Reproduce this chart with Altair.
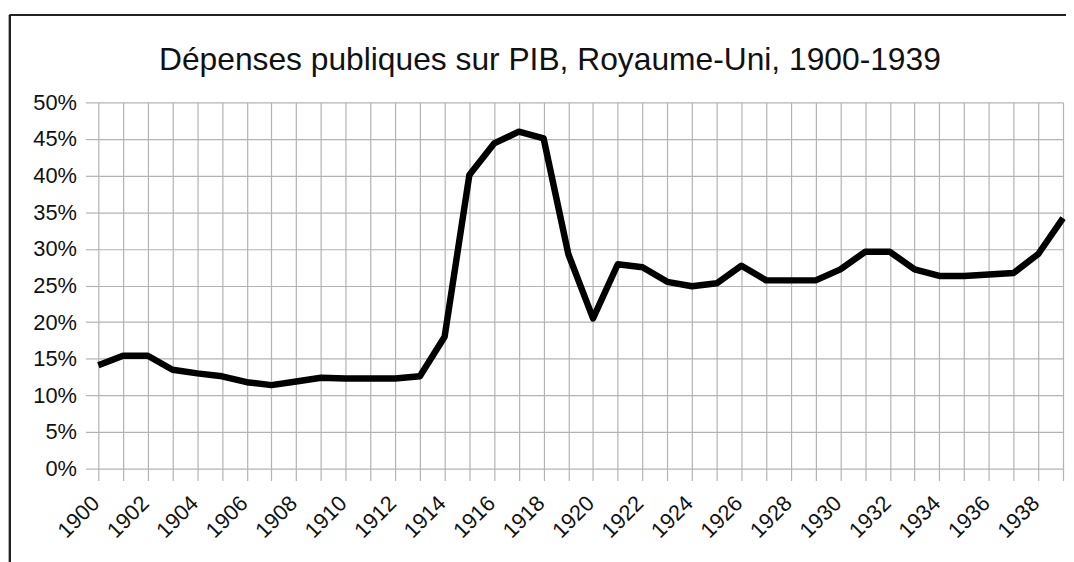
import altair as alt
import pandas as pd

years = list(range(1900, 1940))
spending_pct = [14.1, 15.4, 15.4, 13.5, 13.0, 12.6, 11.8, 11.4, 11.9, 12.4,
                12.3, 12.3, 12.3, 12.6, 18.0, 40.1, 44.4, 46.0, 45.1, 29.3,
                20.5, 27.9, 27.5, 25.5, 24.9, 25.3, 27.7, 25.7, 25.7, 25.7,
                27.2, 29.6, 29.6, 27.2, 26.3, 26.3, 26.5, 26.7, 29.3, 34.2]
y_ticks = [0, 5, 10, 15, 20, 25, 30, 35, 40, 45, 50]

df = pd.DataFrame({"year": years, "value": spending_pct})

FONT = "Liberation Sans"
GRID = "#b3b3b3"

x_enc = alt.X(
    "year:Q",
    scale=alt.Scale(domain=[1900, 1939], nice=False, zero=False),
    axis=alt.Axis(
        values=years, title=None, format="d",
        labelExpr="datum.value % 2 == 0 ? datum.label : ''",
        labelAngle=-45, labelAlign="right", labelBaseline="middle",
        labelPadding=19, labelOffset=-3, labelFontSize=22, labelFont=FONT,
        labelColor="#111",
        grid=True, gridColor=GRID, gridWidth=1.2,
        ticks=True, tickColor=GRID, tickSize=12, tickWidth=1.2,
        domain=False, labelOverlap=False, labelFlush=False,
    ),
)
y_enc = alt.Y(
    "value:Q",
    scale=alt.Scale(domain=[0, 50], nice=False),
    axis=alt.Axis(
        values=y_ticks, title=None,
        labelExpr="datum.value + '%'",
        labelFontSize=22, labelFont=FONT, labelColor="#111", labelPadding=9,
        grid=True, gridColor=GRID, gridWidth=1.2,
        ticks=True, tickColor=GRID, tickSize=13, tickWidth=1.2,
        domain=False,
    ),
)

line = alt.Chart(df).mark_line(
    color="black", strokeWidth=6.5, strokeJoin="round", strokeCap="butt"
).encode(x=x_enc, y=y_enc)

frame_left = alt.Chart(df).mark_rule(color="#222", strokeWidth=2).encode(
    x=alt.value(-89), y=alt.value(-88), y2=alt.value(600)
)
frame_top = alt.Chart(df).mark_rule(color="#222", strokeWidth=2).encode(
    x=alt.value(-89), x2=alt.value(1100), y=alt.value(-88)
)

chart = alt.layer(line, frame_left, frame_top).properties(
    width=972, height=369,
    title=alt.TitleParams(
        "Dépenses publiques sur PIB, Royaume-Uni, 1900-1939",
        font=FONT, fontSize=32, fontWeight="normal", color="#111",
        anchor="middle", frame="group", baseline="alphabetic",
        offset=-88, dx=-31,
    ),
    autosize=alt.AutoSizeParams(type="none"),
    padding={"left": 91, "top": 93, "right": 3, "bottom": 92},
).configure_view(stroke=None)

chart.save("out.html", embed_options={"renderer": "svg", "actions": False})
